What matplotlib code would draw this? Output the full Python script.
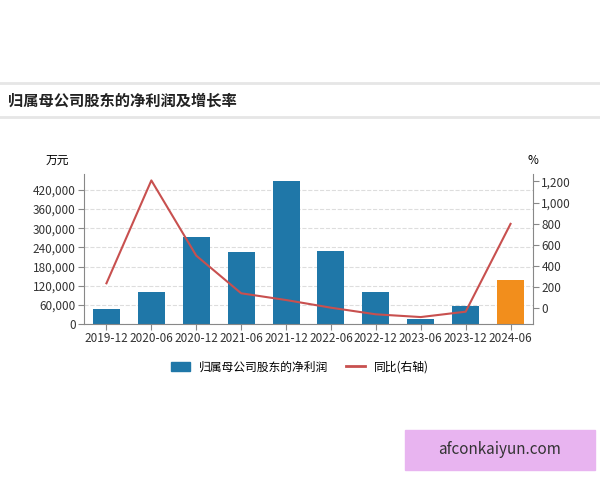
import matplotlib

matplotlib.use("Agg")
import matplotlib.pyplot as plt
from matplotlib.patches import Rectangle
from matplotlib.lines import Line2D

plt.rcParams["font.family"] = ["Noto Sans CJK SC", "DejaVu Sans"]

periods = ["2019-12", "2020-06", "2020-12", "2021-06", "2021-12",
           "2022-06", "2022-12", "2023-06", "2023-12", "2024-06"]
profit = [47000, 99000, 272000, 225000, 448000, 228000, 99000, 17000, 56000, 138000]
yoy = [232, 1210, 495, 137, 73, 0, -63, -89, -38, 797]
left_ticks = [0, 60000, 120000, 180000, 240000, 300000, 360000, 420000]
right_ticks = [0, 200, 400, 600, 800, 1000, 1200]

W, H = 600, 480
fig = plt.figure(figsize=(6, 4.8), dpi=100)
fig.patch.set_facecolor("white")

# title band
for y in (83, 117):
    fig.add_artist(Line2D([0, 1], [1 - y / H, 1 - y / H], color="#e6e6e6", lw=2))
fig.text(8 / W, 1 - 101 / H, "归属母公司股东的净利润及增长率", fontsize=11, fontweight="bold",
         va="center", color="#222222")

ax = fig.add_axes([84 / W, 1 - 324 / H, (533 - 84) / W, (324 - 174) / H])
x = range(len(periods))
colors = ["#1f77a8"] * (len(periods) - 1) + ["#f28e1c"]
ax.bar(x, profit, width=0.6, color=colors, zorder=2)
ax.set_ylim(0, 470000)
ax.set_xlim(-0.5, len(periods) - 0.5)
ax.set_yticks(left_ticks)
ax.set_yticklabels([f"{v:,}" for v in left_ticks], fontsize=8.5, color="#333333")
ax.set_xticks(list(x))
ax.set_xticklabels(periods, fontsize=8.5, color="#333333")
ax.tick_params(axis="x", pad=2, length=4, color="#888888")
ax.tick_params(axis="y", length=4, color="#888888", pad=2)
ax.grid(axis="y", linestyle="--", color="#dddddd", lw=0.8, zorder=0)
for s in ("top", "right"):
    ax.spines[s].set_visible(False)
for s in ("left", "bottom"):
    ax.spines[s].set_color("#888888")
ax.text(-0.06, 1.07, "万元", transform=ax.transAxes, fontsize=8.5, ha="center")

ax2 = ax.twinx()
ax2.plot(x, yoy, color="#c8504f", lw=1.5, zorder=3)
ax2.set_ylim(-155, 1271)
ax2.set_yticks(right_ticks)
ax2.set_yticklabels([f"{v:,}" for v in right_ticks], fontsize=8.5, color="#333333")
ax2.tick_params(axis="y", length=4, color="#888888", pad=2)
for s in ("top", "left", "bottom"):
    ax2.spines[s].set_visible(False)
ax2.spines["right"].set_color("#888888")
ax2.text(1.0, 1.07, "%", transform=ax.transAxes, fontsize=8.5, ha="center")

handles = [Rectangle((0, 0), 1, 1, color="#1f77a8"), Line2D([0], [0], color="#c8504f", lw=2)]
fig.legend(handles, ["归属母公司股东的净利润", "同比(右轴)"], loc="center",
           bbox_to_anchor=(0.5, 1 - 367 / H), ncol=2, frameon=False, fontsize=8.5,
           handlelength=1.6, columnspacing=1.5)

# watermark box
fig.add_artist(Rectangle((405 / W, 1 - 470 / H), 190 / W, 40 / H, color="#e8b4f0"))
fig.text(500 / W, 1 - 450 / H, "afconkaiyun.com", fontsize=11, ha="center", va="center", color="#333333")

fig.savefig("out.png", dpi=100)
